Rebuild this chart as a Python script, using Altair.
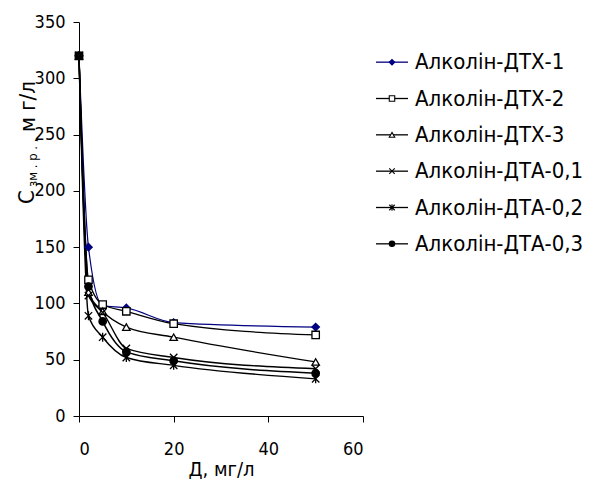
import altair as alt
import pandas as pd

doses = [0, 2, 5, 10, 20, 50]
series = ["Алколін-ДТХ-1", "Алколін-ДТХ-2", "Алколін-ДТХ-3",
          "Алколін-ДТА-0,1", "Алколін-ДТА-0,2", "Алколін-ДТА-0,3"]
s1 = [320, 150, 98, 96, 83, 79]
s2 = [320, 121, 99, 93, 82, 72]
s3 = [320, 110, 93, 79, 70, 48]
s4 = [320, 107, 92, 60, 52, 42]
s5 = [320, 89, 70, 52, 45, 33]
s6 = [320, 115, 84, 57, 49, 38]
values = [s1, s2, s3, s4, s5, s6]

x_ticks = [0, 20, 40, 60]
y_ticks = [0, 50, 100, 150, 200, 250, 300, 350]
x_title = "Д, мг/л"
y_title_parts = ["С", "зм . р . ,", "м г/л"]

rows = []
for name, vals in zip(series, values):
    for d, v in zip(doses, vals):
        rows.append({"series": name, "dose": d, "value": v})
df = pd.DataFrame(rows)
leg = pd.DataFrame({"series": series})

FONT = "DejaVu Sans Condensed, Liberation Sans, Arial"
stroke_cols = ["#000080", "black", "black", "black", "black", "black"]
fill_cols = ["#000080", "white", "white", "white", "white", "black"]
shapes = ["diamond", "square", "triangle-up",
          "M-1,-1L1,1M1,-1L-1,1",
          "M-1,-1L1,1M1,-1L-1,1M0,-1.2L0,1.2",
          "circle"]
widths = [1.2, 1.5, 1.5, 1.5, 1.5, 1.5]

stroke_sc = alt.Scale(domain=series, range=stroke_cols)
fill_sc = alt.Scale(domain=series, range=fill_cols)
shape_sc = alt.Scale(domain=series, range=shapes)

x_enc = alt.X("dose:Q", scale=alt.Scale(domain=[0, 60]),
              axis=alt.Axis(values=x_ticks, title=x_title, grid=False,
                            labelPadding=18, titlePadding=1))
y_enc = alt.Y("value:Q", scale=alt.Scale(domain=[0, 350]),
              axis=alt.Axis(values=y_ticks, title=None, grid=False, labelPadding=8))

base = alt.Chart(df)
lines = base.mark_line(interpolate="monotone").encode(
    x=x_enc, y=y_enc,
    stroke=alt.Stroke("series:N", scale=stroke_sc, legend=None),
    strokeWidth=alt.StrokeWidth("series:N", scale=alt.Scale(domain=series, range=widths), legend=None),
    detail="series:N",
)
points = base.mark_point(size=55, opacity=1, strokeWidth=1.3).encode(
    x="dose:Q", y="value:Q",
    shape=alt.Shape("series:N", scale=shape_sc, legend=None),
    stroke=alt.Stroke("series:N", scale=stroke_sc, legend=None),
    fill=alt.Fill("series:N", scale=fill_sc, legend=None),
)

# y-axis title with subscript, drawn as rotated text pieces
one = pd.DataFrame({"t": [0]})
t_big1 = alt.Chart(one).mark_text(angle=270, align="left", baseline="alphabetic",
                                  fontSize=22, font=FONT, color="black").encode(
    x=alt.value(-45), y=alt.value(182), text=alt.value(y_title_parts[0]))
t_sub = alt.Chart(one).mark_text(angle=270, align="left", baseline="alphabetic",
                                 fontSize=13, font=FONT, color="black").encode(
    x=alt.value(-42), y=alt.value(165), text=alt.value(y_title_parts[1]))
t_big2 = alt.Chart(one).mark_text(angle=270, align="left", baseline="alphabetic",
                                  fontSize=22, font=FONT, color="black").encode(
    x=alt.value(-44), y=alt.value(110), text=alt.value(y_title_parts[2]))

main = alt.layer(lines, points, t_big1, t_sub, t_big2).properties(width=284, height=394)

ly = alt.Y("series:N", scale=alt.Scale(domain=series, range=[22, 240], padding=0), axis=None)
lbase = alt.Chart(leg)
lrule = lbase.mark_rule(strokeWidth=1.3).encode(
    x=alt.value(0), x2=alt.value(32), y=ly,
    stroke=alt.Stroke("series:N", scale=stroke_sc, legend=None),
)
lpt = lbase.mark_point(size=30, opacity=1, strokeWidth=1.1).encode(
    x=alt.value(16), y=ly,
    shape=alt.Shape("series:N", scale=shape_sc, legend=None),
    stroke=alt.Stroke("series:N", scale=stroke_sc, legend=None),
    fill=alt.Fill("series:N", scale=fill_sc, legend=None),
)
ltxt = lbase.mark_text(align="left", baseline="middle", fontSize=22, font=FONT, color="black").encode(
    x=alt.value(39), y=ly, text="series:N",
)
legend = alt.layer(lrule, lpt, ltxt).properties(width=170, height=262)

chart = alt.hconcat(main, legend, spacing=13, bounds="flush").resolve_scale(
    shape="independent", stroke="independent", fill="independent"
).properties(
    padding={"left": 8, "top": 5, "right": 0, "bottom": 0}
).configure_view(stroke=None).configure_axis(
    labelFont=FONT, titleFont=FONT, labelFontSize=18, titleFontSize=20,
    titleFontWeight="normal", domainColor="black", tickColor="black",
    labelColor="black", titleColor="black", tickSize=6,
)

chart.save("out.html", embed_options={"renderer": "svg", "actions": False})
